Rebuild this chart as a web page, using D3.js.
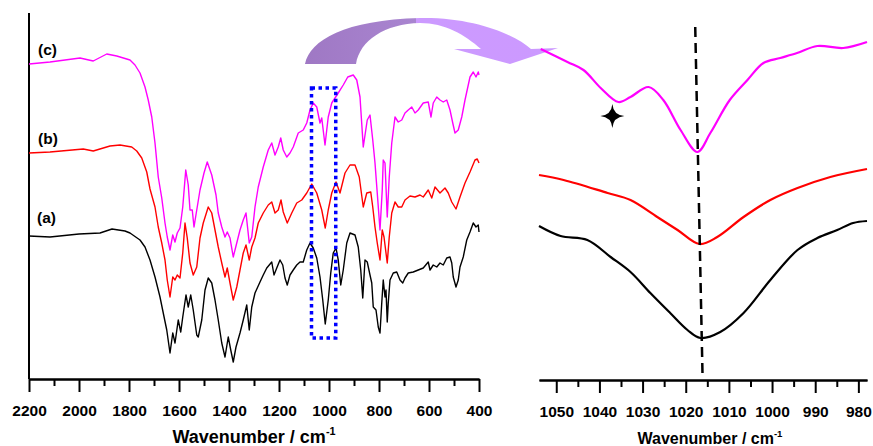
<!DOCTYPE html>
<html>
<head>
<meta charset="utf-8">
<script src="https://cdn.jsdelivr.net/npm/d3@7"></script>
<style>
  body { margin: 0; background: #fff; }
  svg { display: block; font-family: Arial, "Liberation Sans", sans-serif; }
</style>
</head>
<body>
<div id="chart"></div>
<script>
// FTIR spectra, full range: [wavenumber, transmittance (a.u.)]
const specA = [
  [2200,143],[2116,142],[2000,145],[1916,146],[1868,150],[1816,148],[1796,146],[1756,139],[1736,132],
  [1716,119],[1696,102],[1676,82],[1663,66],[1649,49],[1636,26],[1625,46],[1616,36],[1603,59],[1593,47],
  [1585,62],[1572,84],[1563,72],[1553,84],[1543,69],[1529,44],[1523,42],[1509,59],[1496,89],[1483,101],
  [1469,96],[1456,79],[1443,59],[1429,36],[1416,22],[1403,42],[1393,29],[1383,17],[1372,32],[1356,46],
  [1343,59],[1329,74],[1319,49],[1309,72],[1296,86],[1276,97],[1263,104],[1249,111],[1229,117],[1220,104],
  [1209,111],[1196,119],[1185,114],[1176,101],[1167,94],[1156,104],[1143,109],[1129,114],[1116,117],
  [1103,117],[1089,129],[1076,136],[1063,131],[1049,121],[1036,102],[1025,79],[1015,55],[1003,79],[993,106],
  [983,126],[972,131],[963,119],[953,94],[943,109],[929,136],[916,146],[896,144],[883,132],[873,109],
  [865,81],[856,119],[847,117],[836,104],[829,96],[823,72],[812,69],[803,52],[796,46],[789,76],[783,99],
  [776,82],[772,89],[767,57],[763,76],[756,99],[743,106],[729,107],[716,99],[705,96],[696,101],[683,106],
  [663,107],[643,109],[623,111],[603,117],[596,109],[583,114],[569,112],[556,116],[543,114],[529,121],
  [516,122],[509,116],[503,102],[492,92],[483,99],[476,112],[463,122],[449,139],[436,147],[423,156],
  [412,152],[403,154],[400,147]
];
const specB = [
  [2200,226],[2116,227],[1983,230],[1943,228],[1876,233],[1836,234],[1789,232],[1769,228],[1749,221],
  [1729,207],[1716,190],[1696,172],[1683,152],[1669,136],[1656,119],[1647,99],[1636,82],[1625,102],
  [1616,99],[1607,104],[1596,101],[1585,126],[1576,156],[1567,141],[1556,116],[1543,104],[1529,112],
  [1516,141],[1503,156],[1483,172],[1469,166],[1456,149],[1443,132],[1429,116],[1416,102],[1407,111],
  [1396,96],[1383,79],[1369,92],[1356,109],[1343,126],[1332,134],[1319,119],[1309,132],[1296,141],
  [1283,156],[1263,166],[1243,174],[1229,177],[1216,166],[1203,169],[1192,179],[1183,167],[1167,156],
  [1149,166],[1129,176],[1109,179],[1089,186],[1069,195],[1049,186],[1029,169],[1015,151],[1003,169],
  [989,186],[972,197],[956,186],[936,206],[916,214],[896,214],[879,202],[863,172],[849,186],[833,187],
  [825,172],[816,152],[807,136],[796,119],[787,149],[780,142],[767,116],[759,142],[749,166],[736,177],
  [723,172],[709,172],[696,179],[676,183],[656,182],[636,184],[623,182],[603,189],[589,181],[576,192],
  [556,186],[536,191],[523,186],[509,177],[492,170],[476,182],[456,196],[436,207],[416,219],[407,220],
  [400,216]
];
const specC = [
  [2200,315],[2116,317],[1996,321],[1943,318],[1889,325],[1849,323],[1796,319],[1776,314],[1756,306],
  [1736,292],[1723,279],[1709,262],[1696,236],[1683,202],[1669,181],[1656,156],[1647,142],[1636,129],
  [1625,144],[1616,137],[1607,146],[1596,151],[1585,172],[1573,209],[1563,194],[1556,169],[1547,169],
  [1540,152],[1529,169],[1516,189],[1500,206],[1487,217],[1469,204],[1452,184],[1443,166],[1429,152],
  [1416,142],[1407,147],[1396,141],[1383,122],[1369,136],[1356,149],[1343,159],[1332,166],[1319,136],
  [1309,142],[1296,172],[1283,192],[1263,212],[1243,229],[1229,236],[1216,224],[1203,232],[1193,241],
  [1183,229],[1169,222],[1156,226],[1143,232],[1123,246],[1103,249],[1089,256],[1076,269],[1063,276],
  [1049,272],[1036,256],[1029,261],[1016,234],[1003,262],[989,276],[976,281],[963,286],[943,294],
  [925,302],[903,304],[889,299],[876,282],[863,232],[847,259],[836,264],[825,239],[816,216],[807,186],
  [796,149],[787,189],[783,219],[776,216],[767,162],[759,202],[749,236],[736,262],[723,257],[709,259],
  [696,266],[683,269],[669,272],[656,266],[643,269],[623,276],[603,277],[592,262],[583,276],[569,282],
  [556,279],[543,277],[529,279],[516,269],[505,256],[496,246],[483,249],[469,262],[456,279],[436,302],
  [423,307],[412,302],[403,307],[400,304]
];

// expanded region 1054-978 cm-1
const zoomA = [
  [1054,154],[1049,144],[1042.8,140],[1037.4,123],[1032.8,108],[1028.2,87],[1023.6,67],[1019.6,50],
  [1016.6,42],[1012,48],[1006.6,67],[1000.4,100],[994.1,130],[989.5,142],[984.9,150],[981.2,157],[978,159]
];
const zoomB = [
  [1054,205],[1048.3,200],[1038.1,187],[1032.8,180],[1026.6,163],[1021.9,150],[1016.8,136],[1012.7,143],
  [1006.6,163],[1000.4,180],[994.1,192],[986.5,203],[978,211]
];
const zoomC = [
  [1053.6,331],[1047.4,318],[1043.7,310],[1039.7,292],[1035.6,278],[1032.8,283],[1028.6,293],[1025.2,280],
  [1021.2,250],[1017.3,228],[1014.3,247],[1009.8,280],[1005.7,300],[1002,317],[998.1,322],[994.2,327],
  [989.5,334],[983.5,332],[978,338]
];

const leftMajor = [2200, 2000, 1800, 1600, 1400, 1200, 1000, 800, 600, 400];
const leftMinor = [2100, 1900, 1700, 1500, 1300, 1100, 900, 700, 500];
const rightMajor = [1050, 1040, 1030, 1020, 1010, 1000, 990, 980];
const rightMinor = [1045, 1035, 1025, 1015, 1005, 995, 985];

const seriesNames = ['(a)', '(b)', '(c)'];
const seriesColors = ['#000000', '#ff0000', '#ff00ff'];
const boxRange = [1070, 973, 41, 291];     // highlighted band: wn from, wn to, low, high
const peakLine = [[1017.8, 353], [1016.1, 3]];
const starAt = [1037, 264];

const W = 873, H = 446;
const svg = d3.select('#chart').append('svg').attr('width', W).attr('height', H);

// Scales
const xL = d3.scaleLinear().domain([2200, 400]).range([29, 479]);
const yL = d3.scaleLinear().domain([0, 366]).range([379, 13]);
const xR = d3.scaleLinear().domain([1054, 978]).range([539, 867]);
const yR = d3.scaleLinear().domain([0, 367]).range([380, 13]);

// Arrow (decoration)
const defs = svg.append('defs');
const grad = defs.append('linearGradient').attr('id', 'arrow-grad')
  .attr('x1', '0%').attr('x2', '100%').attr('y1', '0%').attr('y2', '0%');
grad.append('stop').attr('offset', '0%').attr('stop-color', '#9f78c4');
grad.append('stop').attr('offset', '44%').attr('stop-color', '#a985d0');
grad.append('stop').attr('offset', '44%').attr('stop-color', '#cc9aff');
grad.append('stop').attr('offset', '100%').attr('stop-color', '#cc99ff');

svg.append('path')
  .attr('fill', 'url(#arrow-grad)')
  .attr('d', 'M305,64 C310,40 345,20 420,18 C475,17 515,35 531,49 L558,48 L510,64 L454,49 L481,49 ' +
             'C465,35 445,23 420,23 C385,24 360,40 356,64 Z');

// Left axes
const gL = svg.append('g');
gL.append('line').attr('x1', 29).attr('x2', 29).attr('y1', 13).attr('y2', 379)
  .attr('stroke', '#000').attr('stroke-width', 2);

function styleAxis(g) {
  g.select('.domain').attr('stroke-width', 2);
  g.selectAll('.tick line').attr('stroke-width', 2);
  g.selectAll('.tick text').attr('font-size', '15.5px').attr('font-weight', 'bold')
    .attr('font-family', 'Arial, "Liberation Sans", sans-serif').attr('fill', '#000');
}

const fmt = d3.format('d');
gL.append('g').attr('transform', 'translate(0,379)')
  .call(d3.axisBottom(xL).tickValues(leftMinor).tickSize(7).tickFormat('').tickSizeOuter(0))
  .call(styleAxis);
gL.append('g').attr('transform', 'translate(0,379)')
  .call(d3.axisBottom(xL).tickValues(leftMajor).tickSize(13).tickPadding(13).tickSizeOuter(0).tickFormat(fmt))
  .call(styleAxis);

function axisTitle(x, y, size) {
  const t = svg.append('text').attr('x', x).attr('y', y).attr('text-anchor', 'middle')
    .attr('font-size', size + 'px').attr('font-weight', 'bold');
  t.append('tspan').text('Wavenumber / cm');
  t.append('tspan').attr('dy', -size * 0.45).attr('font-size', (size * 0.6) + 'px').text('-1');
}
axisTitle(254, 443, 18);

// Right axis
const gR = svg.append('g');
gR.append('g').attr('transform', 'translate(0,380)')
  .call(d3.axisBottom(xR).tickValues(rightMinor).tickSize(7).tickFormat('').tickSizeOuter(0))
  .call(styleAxis);
gR.append('g').attr('transform', 'translate(0,380)')
  .call(d3.axisBottom(xR).tickValues(rightMajor).tickSize(13).tickPadding(13).tickSizeOuter(0).tickFormat(fmt))
  .call(styleAxis);
axisTitle(710, 444, 16);

// Spectra
const lineL = d3.line().x(d => xL(d[0])).y(d => yL(d[1]));
const lineR = d3.line().x(d => xR(d[0])).y(d => yR(d[1])).curve(d3.curveCatmullRom.alpha(0.5));

[specA, specB, specC].forEach((s, i) => {
  svg.append('path').datum(s).attr('fill', 'none').attr('stroke', seriesColors[i])
    .attr('stroke-width', 1.4).attr('stroke-linejoin', 'round').attr('d', lineL);
});
[zoomA, zoomB, zoomC].forEach((s, i) => {
  svg.append('path').datum(s).attr('fill', 'none').attr('stroke', seriesColors[i])
    .attr('stroke-width', 2.2).attr('stroke-linejoin', 'round').attr('d', lineR);
});

// Series labels
const labelY = [223, 144, 55];
seriesNames.forEach((n, i) => {
  svg.append('text').attr('x', i === 0 ? 37 : 38).attr('y', labelY[i])
    .attr('font-size', '15.5px').attr('font-weight', 'bold').text(n);
});

// Highlight box
svg.append('rect')
  .attr('x', xL(boxRange[0])).attr('y', yL(boxRange[3]))
  .attr('width', xL(boxRange[1]) - xL(boxRange[0]))
  .attr('height', yL(boxRange[2]) - yL(boxRange[3]))
  .attr('fill', 'none').attr('stroke', '#0000ff').attr('stroke-width', 3.5)
  .attr('stroke-dasharray', '3.5,3.5');

// Peak line
svg.append('line')
  .attr('x1', xR(peakLine[0][0])).attr('y1', yR(peakLine[0][1]))
  .attr('x2', xR(peakLine[1][0])).attr('y2', yR(peakLine[1][1]))
  .attr('stroke', '#000').attr('stroke-width', 2.5).attr('stroke-dasharray', '10,6');

// Star marker
const sx = xR(starAt[0]), sy = yR(starAt[1]);
svg.append('path')
  .attr('transform', `translate(${sx},${sy})`)
  .attr('fill', '#000')
  .attr('d', 'M0,-12 Q1,-1 12,0 Q1,1 0,12 Q-1,1 -12,0 Q-1,-1 0,-12 Z');
</script>
</body>
</html>
